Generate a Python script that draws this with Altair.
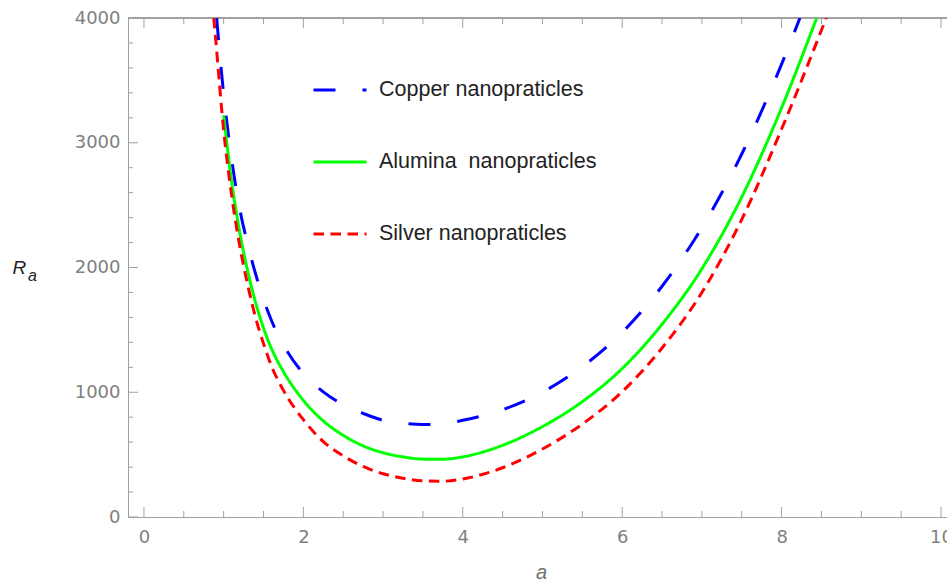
import altair as alt
import pandas as pd

# ---------------- data ----------------
series_names = ["Copper nanopraticles", "Alumina\u00a0 nanopraticles", "Silver nanopraticles"]
series_colors = ["#0000ff", "#00ff00", "#ff0000"]
series_dashes = [[22, 27], [1, 0], [10.5, 6.5]]

a_copper = [0.912, 1.0, 1.1, 1.2, 1.3, 1.4, 1.5, 1.6, 1.75, 2.0, 2.25, 2.5, 2.75, 3.0,
            3.25, 3.5, 3.75, 4.0, 4.5, 5.0, 5.5, 6.0, 6.5, 7.0, 7.5, 8.0, 8.23]
ra_copper = [4000, 3390, 2870, 2475, 2190, 1950, 1745, 1575, 1380, 1150, 1003, 900, 831, 775,
             752, 742, 745, 775, 860, 1000, 1205, 1480, 1850, 2320, 2910, 3630, 4000]

a_alumina = [1.0, 1.1, 1.2, 1.3, 1.4, 1.5, 1.6, 1.75, 2.0, 2.25, 2.5, 2.75, 3.0, 3.25,
             3.5, 3.75, 4.0, 4.5, 5.0, 5.5, 6.0, 6.5, 7.0, 7.5, 8.0, 8.44]
ra_alumina = [3220, 2690, 2290, 1975, 1720, 1515, 1350, 1165, 935, 770, 655, 570, 515, 482,
              464, 463, 482, 575, 725, 925, 1190, 1545, 1990, 2565, 3280, 4000]

a_silver = [0.876, 0.9, 1.0, 1.1, 1.2, 1.3, 1.4, 1.5, 1.6, 1.75, 2.0, 2.25, 2.5, 2.75,
            3.0, 3.25, 3.5, 3.75, 4.0, 4.5, 5.0, 5.5, 6.0, 6.5, 7.0, 7.5, 8.0, 8.56]
ra_silver = [4000, 3830, 3100, 2580, 2180, 1865, 1600, 1390, 1210, 1015, 780, 605, 490, 405,
             347, 310, 290, 287, 305, 395, 545, 745, 1005, 1355, 1800, 2385, 3110, 4000]

x_major_ticks = [0, 2, 4, 6, 8, 10]
x_minor_ticks = [0.5, 1, 1.5, 2.5, 3, 3.5, 4.5, 5, 5.5, 6.5, 7, 7.5, 8.5, 9, 9.5]
y_major_ticks = [0, 1000, 2000, 3000, 4000]
y_minor_ticks = [200, 400, 600, 800, 1200, 1400, 1600, 1800, 2200, 2400, 2600, 2800,
                 3200, 3400, 3600, 3800]

# ---------------- build tables ----------------
rows = []
for name, xs, ys in zip(series_names, [a_copper, a_alumina, a_silver],
                        [ra_copper, ra_alumina, ra_silver]):
    for x, y in zip(xs, ys):
        rows.append({"a": x, "Ra": y, "series": name})
df = pd.DataFrame(rows)

W, H = 819, 499
FRAME = "#a0a0a0"

xscale = alt.Scale(domain=[-0.2, 10.075], nice=False, zero=False)
yscale = alt.Scale(domain=[0, 4000], nice=False, zero=False)

xaxis = alt.Axis(values=x_major_ticks, ticks=False, tickSize=0, grid=False, format="d",
                 domainColor=FRAME, domainWidth=1,
                 labelFont="DejaVu Sans", labelFontSize=18, labelColor="#808080",
                 labelPadding=11, labelFlush=False,
                 title="a", titleFont="Liberation Sans", titleFontSize=20,
                 titleFontStyle="italic", titleFontWeight="normal", titleColor="#707070",
                 titleX=413, titleY=61, titleBaseline="alphabetic", titleAlign="center")
yaxis = alt.Axis(values=y_major_ticks, ticks=False, tickSize=0, grid=False, format="d",
                 domainColor=FRAME, domainWidth=1,
                 labelFont="DejaVu Sans", labelFontSize=18, labelColor="#808080",
                 labelPadding=8, labelFlush=False,
                 title="R", titleFont="Liberation Sans", titleFontSize=19,
                 titleFontStyle="italic", titleFontWeight="normal", titleColor="#222222",
                 titleAngle=0, titleX=-116, titleY=255, titleAlign="left",
                 titleBaseline="alphabetic")


def X(field):
    return alt.X(field, type="quantitative", scale=xscale, axis=xaxis)


def Y(field):
    return alt.Y(field, type="quantitative", scale=yscale, axis=yaxis)


legend = alt.Legend(orient="none", legendX=184, legendY=44, title=None,
                    symbolType="stroke", symbolSize=2809, symbolStrokeWidth=3,
                    labelFont="Liberation Sans", labelFontSize=21.5, labelColor="#222222",
                    labelOffset=11, rowPadding=33, labelLimit=0)

lines = alt.Chart(df).mark_line(strokeWidth=3, clip=True, interpolate="monotone").encode(
    x=X("a"),
    y=Y("Ra"),
    color=alt.Color("series:N", scale=alt.Scale(domain=series_names, range=series_colors),
                    legend=legend),
    strokeDash=alt.StrokeDash("series:N",
                              scale=alt.Scale(domain=series_names, range=series_dashes),
                              legend=legend),
)

xmaj = pd.DataFrame({"a": x_major_ticks})
xmin = pd.DataFrame({"a": x_minor_ticks})
ymaj = pd.DataFrame({"Ra": y_major_ticks})
ymin = pd.DataFrame({"Ra": y_minor_ticks})

tick_layers = [
    alt.Chart(xmaj).mark_rule(color=FRAME, strokeWidth=1).encode(
        x=X("a"), y=alt.value(H), y2=alt.value(H - 10)),
    alt.Chart(xmin).mark_rule(color=FRAME, strokeWidth=1).encode(
        x=X("a"), y=alt.value(H), y2=alt.value(H - 6)),
    alt.Chart(xmaj).mark_rule(color=FRAME, strokeWidth=1).encode(
        x=X("a"), y=alt.value(0), y2=alt.value(10)),
    alt.Chart(xmin).mark_rule(color=FRAME, strokeWidth=1).encode(
        x=X("a"), y=alt.value(0), y2=alt.value(6)),
    alt.Chart(ymaj).mark_rule(color=FRAME, strokeWidth=1).encode(
        y=Y("Ra"), x=alt.value(0), x2=alt.value(10)),
    alt.Chart(ymin).mark_rule(color=FRAME, strokeWidth=1).encode(
        y=Y("Ra"), x=alt.value(0), x2=alt.value(5)),
]

top_border = alt.Chart(xmaj).mark_rule(color=FRAME, strokeWidth=1).encode(
    x=alt.value(0), x2=alt.value(W), y=alt.value(0))

sub_a = alt.Chart(pd.DataFrame({"t": ["a"]})).mark_text(
    font="Liberation Sans", fontSize=16, fontStyle="italic", color="#222222",
    align="left", baseline="alphabetic").encode(
    text="t:N", x=alt.value(-100), y=alt.value(263))

chart = alt.layer(*tick_layers, top_border, lines, sub_a).properties(
    width=W, height=H,
    padding={"left": 128, "top": 18, "right": 0, "bottom": 66},
    autosize=alt.AutoSizeParams(type="none"),
).configure_view(strokeWidth=0).configure(background="white")

chart.save("out.html", embed_options={"renderer": "svg", "actions": False})
